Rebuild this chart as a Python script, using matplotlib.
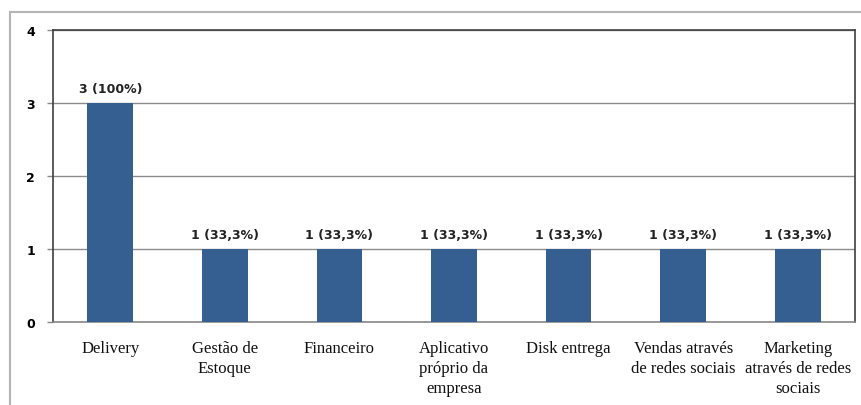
import matplotlib
matplotlib.use("Agg")
import matplotlib.pyplot as plt
from matplotlib.lines import Line2D

# dados do grafico
categorias = ["Delivery", "Gestão de\nEstoque", "Financeiro",
              "Aplicativo\npróprio da\nempresa", "Disk entrega",
              "Vendas através\nde redes sociais",
              "Marketing\natravés de redes\nsociais"]
valores = [3, 1, 1, 1, 1, 1, 1]
rotulos = ["3 (100%)", "1 (33,3%)", "1 (33,3%)", "1 (33,3%)",
           "1 (33,3%)", "1 (33,3%)", "1 (33,3%)"]
ticks_y = [0, 1, 2, 3, 4]

W, H = 862, 406
fig = plt.figure(figsize=(W / 100, H / 100), dpi=100)
ax = fig.add_axes([53 / W, 1 - 323 / H, (855 - 53) / W, (323 - 31) / H])

pos = list(range(len(categorias)))
barras = ax.bar(pos, valores, width=0.4, color="#365F91", zorder=3)

for b, txt in zip(barras, rotulos):
    ax.annotate(txt, (b.get_x() + b.get_width() / 2, b.get_height()),
                xytext=(0, 6), textcoords="offset points",
                ha="center", va="bottom", fontsize=9, fontweight="bold",
                family="DejaVu Sans", color="#222222")

ax.set_xlim(-0.5, len(categorias) - 0.5)
ax.set_ylim(0, 4)
ax.set_yticks(ticks_y)
ax.set_xticks(pos)
ax.set_xticklabels(categorias, family="Liberation Serif", fontsize=12,
                   linespacing=1.35, color="#111111")
for lbl in ax.get_yticklabels():
    lbl.set_fontweight("bold")
    lbl.set_fontsize(9)
    lbl.set_family("DejaVu Sans")
ax.tick_params(axis="x", length=0, pad=13)
ax.tick_params(axis="y", length=4, width=1, color="#888888", pad=9)
ax.yaxis.grid(True, color="#8c8c8c", lw=1, zorder=0)

for s in ax.spines.values():
    s.set_color("#404040")
    s.set_linewidth(1.2)
ax.spines["bottom"].set_color("#888888")

# moldura cinza externa
y_top = 1 - 13 / H
x_left = 10 / W
fig.add_artist(Line2D([x_left, 1], [y_top, y_top], color="#b5b5b5", lw=1.5))
fig.add_artist(Line2D([x_left, x_left], [0, y_top], color="#b5b5b5", lw=1.5))

fig.savefig("out.png", dpi=100)
